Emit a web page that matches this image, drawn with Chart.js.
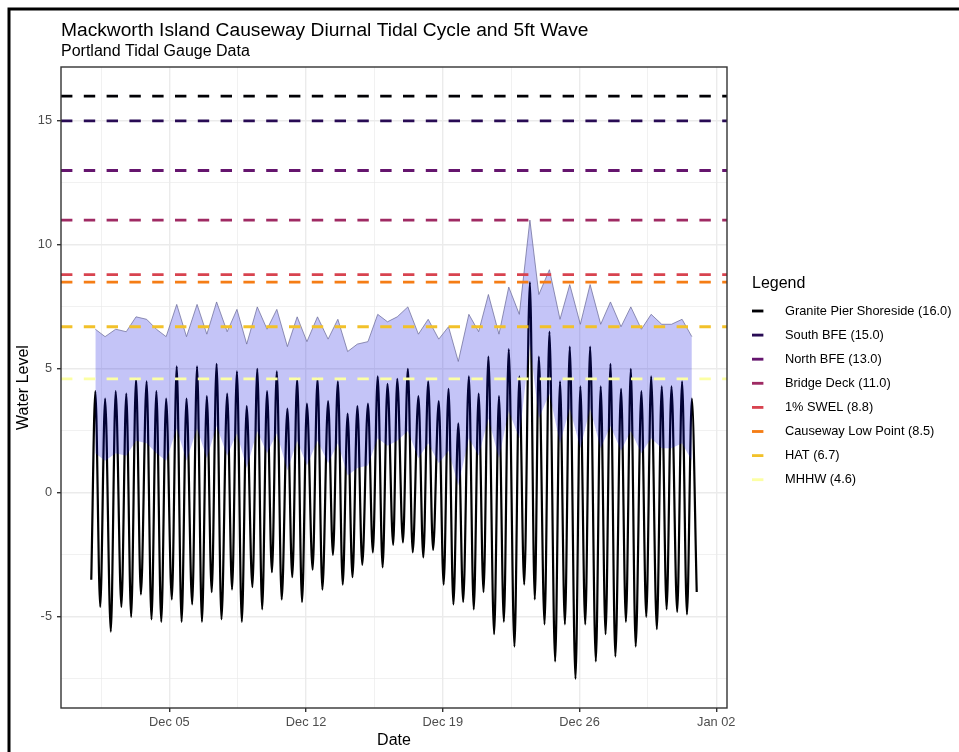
<!DOCTYPE html>
<html>
<head>
<meta charset="utf-8">
<script src="https://cdn.jsdelivr.net/npm/chart.js@4.4.1/dist/chart.umd.min.js"></script>
<style>
  html, body { margin: 0; padding: 0; background: #ffffff; }
  canvas { display: block; }
</style>
</head>
<body>
<canvas id="grafico_marea" width="959" height="752"></canvas>
<script>
// horas desde Dec 01 00:00
const highTimes = [5, 17, 30, 43, 55, 68, 80, 92, 105, 117, 130, 142, 154, 167,
    179, 191, 204, 216, 228, 241, 253, 265, 278, 291, 303, 315, 327, 340,
    352, 364, 376, 389, 402, 414, 427, 439, 451, 464, 476, 488, 501, 513,
    526, 539, 550, 563, 576, 588, 601, 613, 626, 638, 651, 663, 676, 688, 701, 713, 726, 738];
const highLevels = [4.1, 3.8, 4.1, 4.0, 4.6, 4.5, 4.1, 3.8, 5.1, 3.8, 5.1, 3.9, 5.2, 4.0,
    4.9, 3.5, 5.0, 4.1, 4.9, 3.4, 4.6, 3.6, 4.6, 3.7, 4.5, 3.2, 3.5, 3.6,
    4.7, 4.4, 4.6, 5.0, 3.9, 4.5, 3.7, 4.2, 2.8, 4.7, 4.0, 5.5, 3.9, 5.8,
    4.7, 8.5, 5.5, 6.5, 4.5, 5.9, 4.3, 5.9, 4.3, 5.2, 4.2, 5.0, 4.1, 4.7, 4.3, 4.3, 4.5, 3.8];
const lowTimes = [0, 11, 24, 37, 49, 61, 74, 86, 99, 111, 124, 136, 148, 160,
    173, 185, 198, 210, 222, 234, 247, 259, 272, 284, 297, 309, 321, 333, 346,
    358, 371, 383, 395, 408, 420, 433, 445, 457, 470, 482, 495, 507, 520,
    532, 545, 557, 570, 582, 595, 607, 620, 632, 644, 657, 669, 682, 695, 707, 720, 732, 744];
const lowLevels = [-3.5, -4.6, -5.6, -4.6, -5.0, -4.1, -5.1, -5.2, -4.3, -5.2, -4.5, -5.2, -4.0, -5.1,
    -3.9, -5.2, -3.8, -4.7, -3.2, -4.3, -3.4, -4.4, -3.1, -3.9, -2.5, -3.7, -3.4, -2.9, -2.4,
    -3.0, -2.1, -2.0, -2.4, -2.6, -2.3, -3.7, -4.5, -4.4, -4.7, -4.0, -5.7, -5.2, -6.2,
    -3.7, -4.3, -5.3, -6.8, -5.3, -7.5, -5.3, -6.8, -5.7, -6.6, -5.2, -6.2, -5.0, -5.5, -4.7, -4.8, -4.9, -4.0];

const waveHeight = 5;

const refNames = ['Granite Pier Shoreside', 'South BFE', 'North BFE', 'Bridge Deck',
    '1% SWEL', 'Causeway Low Point', 'HAT', 'MHHW'];
const refLevels = [16.0, 15.0, 13.0, 11.0, 8.8, 8.5, 6.7, 4.6];
const refColors = ['#000004', '#280B54', '#65156E', '#9F2A63', '#D8434F', '#F57D15', '#F2C12A', '#FCFFA4'];

const xTickHours = [96, 264, 432, 600, 768];
const xTickLabels = ['Dec 05', 'Dec 12', 'Dec 19', 'Dec 26', 'Jan 02'];
const xMinorHours = [12, 180, 348, 516, 684];
const yTicks = [-5, 0, 5, 10, 15];
const yMinor = [-7.5, -2.5, 2.5, 7.5, 12.5];

const xMin = -37.2, xMax = 781.2;
const yMin = -8.675, yMax = 17.175;
const fuente = '"Liberation Sans", Arial, sans-serif';

// serie de marea: pleamares y bajamares en orden
let marea = [];
highTimes.forEach((t, i) => marea.push({ x: t, y: highLevels[i] }));
lowTimes.forEach((t, i) => marea.push({ x: t, y: lowLevels[i] }));
marea.sort((a, b) => a.x - b.x);

const olaArriba = highTimes.map((t, i) => ({ x: t, y: highLevels[i] + waveHeight / 2 }));
const olaAbajo = highTimes.map((t, i) => ({ x: t, y: highLevels[i] - waveHeight / 2 }));

let datasets = [];
refLevels.forEach((lvl, i) => {
    datasets.push({
        label: refNames[i],
        data: [{ x: xMin, y: lvl }, { x: xMax, y: lvl }],
        borderColor: refColors[i],
        borderWidth: 2.85,
        borderDash: [11.4, 11.4],
        borderCapStyle: 'butt',
        pointRadius: 0,
        fill: false
    });
});
datasets.push({
    label: 'ola arriba',
    data: olaArriba,
    borderColor: 'rgba(105,105,150,0.9)',
    borderWidth: 0.8,
    backgroundColor: 'rgba(10,10,220,0.24)',
    pointRadius: 0,
    tension: 0,
    fill: '+1'
});
datasets.push({
    label: 'ola abajo',
    data: olaAbajo,
    borderWidth: 0,
    borderColor: 'rgba(0,0,0,0)',
    pointRadius: 0,
    tension: 0,
    fill: false
});
datasets.push({
    label: 'marea',
    data: marea,
    borderColor: '#000000',
    borderWidth: 2.2,
    pointRadius: 0,
    cubicInterpolationMode: 'monotone',
    fill: false
});

const decoracion = {
    id: 'decoracion',
    afterDraw(chart) {
        const ctx = chart.ctx;
        const a = chart.chartArea;
        ctx.save();

        // borde del panel
        ctx.strokeStyle = '#333333';
        ctx.lineWidth = 1.4;
        ctx.strokeRect(a.left, a.top, a.right - a.left, a.bottom - a.top);

        // titulos
        ctx.fillStyle = '#000000';
        ctx.textAlign = 'left';
        ctx.textBaseline = 'alphabetic';
        ctx.font = '19.2px ' + fuente;
        ctx.fillText('Mackworth Island Causeway Diurnal Tidal Cycle and 5ft Wave', 61, 36);
        ctx.font = '16px ' + fuente;
        ctx.fillText('Portland Tidal Gauge Data', 61, 56);

        // titulos de ejes
        ctx.textAlign = 'center';
        ctx.textBaseline = 'middle';
        ctx.fillText('Date', (a.left + a.right) / 2, 741);
        ctx.save();
        ctx.translate(24, (a.top + a.bottom) / 2);
        ctx.rotate(-Math.PI / 2);
        ctx.fillText('Water Level', 0, 0);
        ctx.restore();

        // leyenda
        const lx = 752;
        ctx.textAlign = 'left';
        ctx.font = '16px ' + fuente;
        ctx.fillText('Legend', lx, 284);
        ctx.font = '12.8px ' + fuente;
        refNames.forEach((nombre, i) => {
            const y = 311 + i * 24.1;
            ctx.strokeStyle = refColors[i];
            ctx.lineWidth = 2.85;
            ctx.beginPath();
            ctx.moveTo(lx, y);
            ctx.lineTo(lx + 11.4, y);
            ctx.stroke();
            ctx.fillStyle = '#000000';
            ctx.fillText(nombre + ' (' + refLevels[i].toFixed(1) + ')', lx + 33, y);
        });

        // marco negro
        ctx.strokeStyle = '#000000';
        ctx.lineWidth = 3;
        ctx.beginPath();
        ctx.moveTo(9, 760);
        ctx.lineTo(9, 9);
        ctx.lineTo(970, 9);
        ctx.stroke();
        ctx.restore();
    }
};

function colorGrid(c) { return '#EBEBEB'; }

new Chart(document.getElementById('grafico_marea'), {
    type: 'line',
    data: { datasets: datasets },
    options: {
        responsive: false,
        animation: false,
        events: [],
        layout: { padding: { left: 0, top: 67, right: 232, bottom: 0 } },
        plugins: { legend: { display: false }, tooltip: { enabled: false }, title: { display: false } },
        scales: {
            x: {
                type: 'linear',
                min: xMin,
                max: xMax,
                afterBuildTicks: (s) => {
                    s.ticks = xMinorHours.concat(xTickHours).sort((a, b) => a - b).map(v => ({ value: v }));
                },
                afterFit: (s) => { s.height = 44; },
                ticks: {
                    autoSkip: false,
                    maxRotation: 0,
                    padding: 3,
                    color: '#4D4D4D',
                    font: { family: fuente, size: 12.8 },
                    callback: (v) => {
                        const k = xTickHours.indexOf(v);
                        return k >= 0 ? xTickLabels[k] : '';
                    }
                },
                grid: {
                    color: colorGrid,
                    lineWidth: (c) => xTickHours.includes(c.tick.value) ? 1.4 : 0.7,
                    tickLength: 4,
                    tickWidth: 1.4,
                    tickColor: (c) => xTickHours.includes(c.tick.value) ? '#333333' : 'rgba(0,0,0,0)'
                },
                border: { display: false }
            },
            y: {
                type: 'linear',
                min: yMin,
                max: yMax,
                afterBuildTicks: (s) => {
                    s.ticks = yMinor.concat(yTicks).sort((a, b) => a - b).map(v => ({ value: v }));
                },
                afterFit: (s) => { s.width = 61; },
                ticks: {
                    padding: 5,
                    color: '#4D4D4D',
                    font: { family: fuente, size: 12.8 },
                    callback: (v) => yTicks.includes(v) ? String(v) : ''
                },
                grid: {
                    color: colorGrid,
                    lineWidth: (c) => yTicks.includes(c.tick.value) ? 1.4 : 0.7,
                    tickLength: 4,
                    tickWidth: 1.4,
                    tickColor: (c) => yTicks.includes(c.tick.value) ? '#333333' : 'rgba(0,0,0,0)'
                },
                border: { display: false }
            }
        }
    },
    plugins: [decoracion]
});
</script>
</body>
</html>
